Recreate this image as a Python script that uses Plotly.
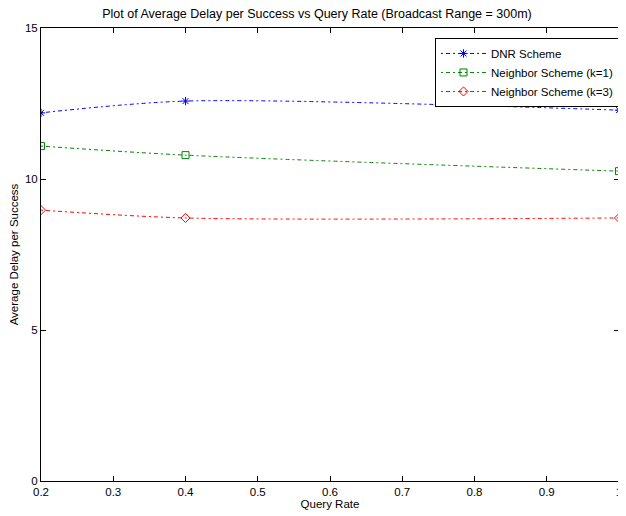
import plotly.graph_objects as go

query_rate = [0.2, 0.4, 1.0]
dnr = [12.19, 12.58, 12.28]
nb_k1 = [11.09, 10.79, 10.26]
nb_k3 = [8.97, 8.71, 8.71]

x_ticks = [0.2, 0.3, 0.4, 0.5, 0.6, 0.7, 0.8, 0.9, 1.0]
x_tick_text = ["0.2", "0.3", "0.4", "0.5", "0.6", "0.7", "0.8", "0.9", "1"]
y_ticks = [0, 5, 10, 15]

series = [
    ("DNR Scheme", dnr, "#0000ff", "asterisk-open"),
    ("Neighbor Scheme (k=1)", nb_k1, "#008000", "square-open"),
    ("Neighbor Scheme (k=3)", nb_k3, "#ff0000", "diamond-open"),
]

fig = go.Figure()
for name, vals, color, sym in series:
    fig.add_trace(go.Scatter(
        x=query_rate, y=vals, name=name, mode="lines+markers",
        line=dict(color=color, width=1, dash="2px,3px,4px,3px", shape="spline", smoothing=0.8),
        marker=dict(symbol=sym, size=7, color=color, line=dict(color=color, width=1)),
    ))

FAM = "Liberation Sans, Arial, Helvetica, sans-serif"
fig.update_layout(
    width=618, height=508,
    margin=dict(l=33, r=4, t=20, b=35),
    paper_bgcolor="white", plot_bgcolor="white",
    font=dict(family=FAM, size=12, color="black"),
    title=dict(text="Plot of Average Delay per Success vs Query Rate (Broadcast Range = 300m)",
               x=0.5, xanchor="center", y=0.988, yanchor="middle",
               font=dict(size=12.5)),
    showlegend=True,
    legend=dict(x=1.0, xanchor="right", y=0.978, yanchor="top",
                bordercolor="black", borderwidth=1, bgcolor="white",
                font=dict(size=11.5), tracegroupgap=0, itemwidth=45),
)
fig.update_xaxes(range=[0.2, 1.0], tickvals=x_ticks, ticktext=x_tick_text,
                 tickfont=dict(size=11.5),
                 showgrid=False, zeroline=False, showline=True, linecolor="black", linewidth=1,
                 mirror="ticks", ticks="inside", ticklen=5, tickcolor="black",
                 title=dict(text="Query Rate", standoff=2, font=dict(size=11.5)))
fig.update_yaxes(range=[0, 15], tickvals=y_ticks,
                 tickfont=dict(size=11.5),
                 showgrid=False, zeroline=False, showline=True, linecolor="black", linewidth=1,
                 mirror="ticks", ticks="inside", ticklen=5, tickcolor="black",
                 title=dict(text="Average Delay per Success", standoff=4, font=dict(size=11.5)))
fig.write_html("out.html")
